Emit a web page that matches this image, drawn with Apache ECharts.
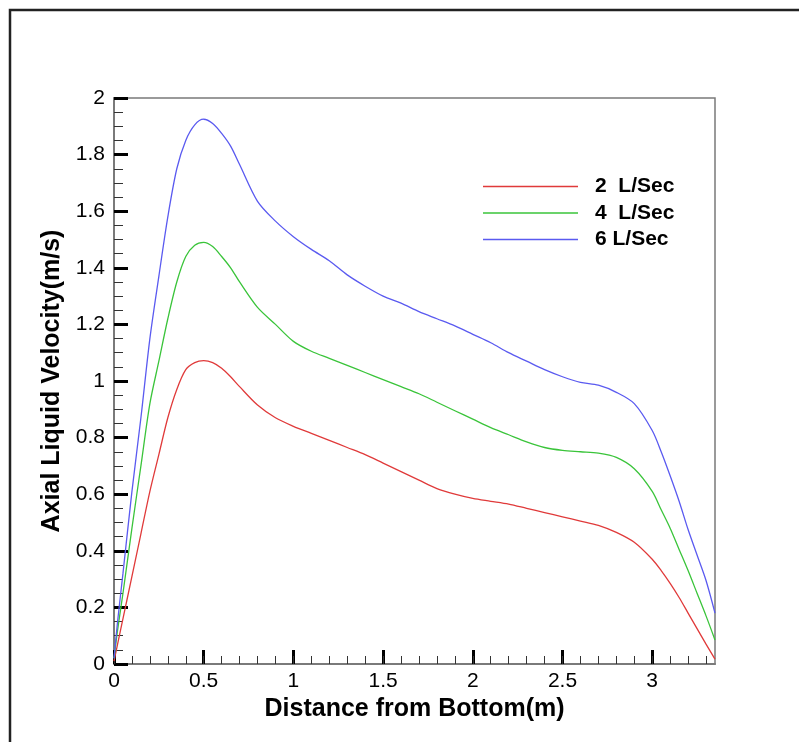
<!DOCTYPE html>
<html>
<head>
<meta charset="utf-8">
<script src="https://cdn.jsdelivr.net/npm/echarts@6/dist/echarts.min.js"></script>
<style>
html,body{margin:0;padding:0;background:#fff;}
#chart{width:799px;height:742px;}
</style>
</head>
<body>
<div id="chart"></div>
<script>
var xValues = [0, 0.02, 0.05, 0.1, 0.15, 0.2, 0.25, 0.3, 0.35, 0.4, 0.45, 0.5, 0.55, 0.6, 0.65, 0.7, 0.8, 0.9, 1.0, 1.1, 1.2, 1.3, 1.4, 1.5, 1.6, 1.7, 1.8, 1.9, 2.0, 2.1, 2.2, 2.3, 2.4, 2.5, 2.6, 2.7, 2.8, 2.9, 3.0, 3.05, 3.1, 3.15, 3.2, 3.25, 3.3, 3.35];
var vel2 = [0.01, 0.07, 0.16, 0.31, 0.46, 0.61, 0.74, 0.87, 0.97, 1.04, 1.065, 1.072, 1.065, 1.045, 1.015, 0.98, 0.915, 0.87, 0.84, 0.815, 0.79, 0.765, 0.74, 0.71, 0.68, 0.65, 0.62, 0.60, 0.585, 0.575, 0.565, 0.55, 0.535, 0.52, 0.505, 0.49, 0.465, 0.43, 0.37, 0.33, 0.285, 0.235, 0.18, 0.125, 0.07, 0.017];
var vel4 = [0.02, 0.12, 0.25, 0.48, 0.70, 0.92, 1.07, 1.22, 1.35, 1.44, 1.48, 1.49, 1.475, 1.44, 1.40, 1.35, 1.26, 1.20, 1.14, 1.105, 1.08, 1.055, 1.03, 1.005, 0.98, 0.955, 0.925, 0.895, 0.865, 0.835, 0.81, 0.785, 0.765, 0.755, 0.75, 0.745, 0.73, 0.69, 0.61, 0.545, 0.48, 0.405, 0.33, 0.25, 0.17, 0.085];
var vel6 = [0.02, 0.15, 0.32, 0.61, 0.87, 1.15, 1.37, 1.58, 1.75, 1.85, 1.905, 1.925, 1.91, 1.875, 1.83, 1.765, 1.635, 1.565, 1.51, 1.465, 1.425, 1.375, 1.335, 1.30, 1.275, 1.245, 1.22, 1.195, 1.165, 1.135, 1.10, 1.07, 1.04, 1.015, 0.995, 0.985, 0.96, 0.92, 0.825, 0.75, 0.665, 0.575, 0.475, 0.385, 0.295, 0.18];
var seriesNames = ['2  L/Sec', '4  L/Sec', '6 L/Sec'];
var xMajorTicks = [0, 0.5, 1, 1.5, 2, 2.5, 3];
var xMinorTicks = [0, 0.1, 0.2, 0.3, 0.4, 0.5, 0.6, 0.7, 0.8, 0.9, 1.0, 1.1, 1.2, 1.3, 1.4, 1.5, 1.6, 1.7, 1.8, 1.9, 2.0, 2.1, 2.2, 2.3, 2.4, 2.5, 2.6, 2.7, 2.8, 2.9, 3.0, 3.1, 3.2, 3.3];
var xLabel = 'Distance from Bottom(m)';
var yLabel = 'Axial Liquid Velocity(m/s)';

function pairs(ys) { return xValues.map(function (x, i) { return [x, ys[i]]; }); }

var FONT = "'Liberation Sans', Arial, Helvetica, sans-serif";
var colors = ['#e03a3a', '#3ac43a', '#5a5af0'];
var chart = echarts.init(document.getElementById('chart'), null, { renderer: 'canvas' });
var option = {
  backgroundColor: '#fff',
  animation: false,
  graphic: [{
    type: 'rect', z: -10, silent: true,
    shape: { x: 10, y: 10, width: 1000, height: 1000 },
    style: { fill: 'none', stroke: '#222', lineWidth: 2.5 }
  }],
  grid: { left: 114, right: 84, top: 98, bottom: 78, show: true, borderColor: '#7a7a7a', borderWidth: 1.5, containLabel: false },
  legend: {
    orient: 'vertical', left: 483, top: 176, padding: 0, itemGap: 5.5,
    itemWidth: 95, itemHeight: 1.6, icon: 'rect',
    textStyle: { fontFamily: FONT, fontSize: 21, fontWeight: 'bold', color: '#000', lineHeight: 21, padding: [0, 0, 0, 12] },
    data: seriesNames
  },
  xAxis: [{
    type: 'value', min: 0, max: 3.35, interval: 0.5,
    name: xLabel, nameLocation: 'middle', nameGap: 27,
    nameTextStyle: { fontFamily: FONT, fontSize: 25, fontWeight: 'bold', color: '#000' },
    axisLine: { show: true, onZero: false, lineStyle: { color: '#7a7a7a', width: 2 } },
    axisTick: { show: true, inside: true, length: 14, customValues: xMajorTicks, lineStyle: { color: '#000', width: 3 } },
    axisLabel: { show: true, margin: 7, customValues: xMajorTicks, fontFamily: FONT, fontSize: 21, color: '#000',
      formatter: function (v) { return String(v); } },
    splitLine: { show: false }
  }, {
    type: 'value', min: 0, max: 3.35, interval: 0.1, position: 'bottom',
    axisLine: { show: false },
    axisTick: { show: true, inside: true, length: 8, customValues: xMinorTicks, lineStyle: { color: '#333', width: 1 } },
    axisLabel: { show: false },
    splitLine: { show: false }
  }],
  yAxis: {
    type: 'value', min: 0, max: 2, interval: 0.2,
    name: yLabel, nameLocation: 'middle', nameGap: 44,
    nameTextStyle: { fontFamily: FONT, fontSize: 25, fontWeight: 'bold', color: '#000' },
    axisLine: { show: true, onZero: false, lineStyle: { color: '#7a7a7a', width: 2 } },
    axisTick: { show: true, inside: true, length: 14, lineStyle: { color: '#000', width: 3 } },
    minorTick: { show: true, splitNumber: 4, length: 9, lineStyle: { color: '#333', width: 1 } },
    axisLabel: { show: true, margin: 9, fontFamily: FONT, fontSize: 21, color: '#000',
      formatter: function (v) { return String(Math.round(v * 10) / 10); } },
    splitLine: { show: false }
  },
  series: [vel2, vel4, vel6].map(function (ys, i) {
    return {
      name: seriesNames[i], type: 'line', xAxisIndex: 0, data: pairs(ys),
      symbol: 'none', smooth: 0.3, clip: true,
      lineStyle: { color: colors[i], width: 1.3 },
      itemStyle: { color: colors[i] }
    };
  })
};
chart.setOption(option);
</script>
</body>
</html>
